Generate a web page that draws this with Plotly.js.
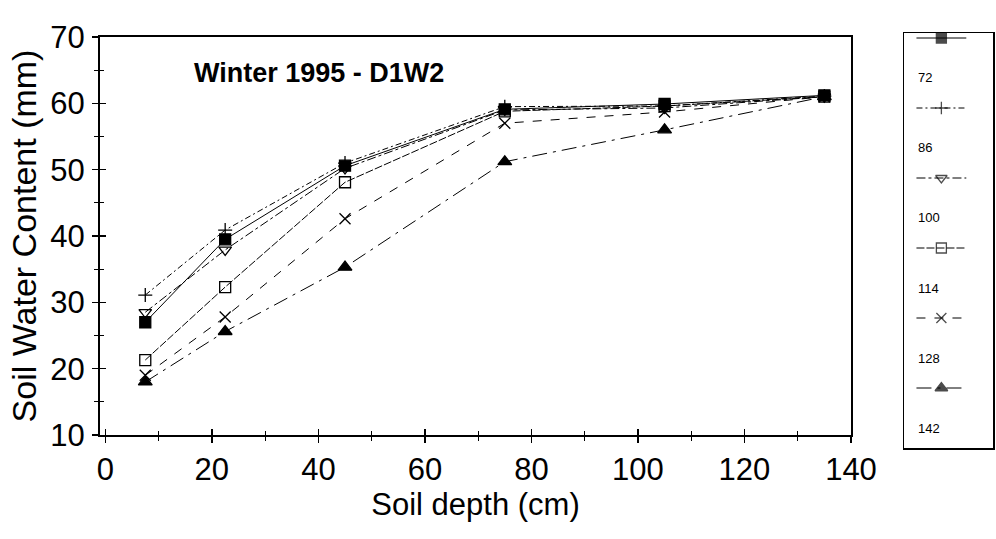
<!DOCTYPE html>
<html>
<head>
<meta charset="utf-8">
<script src="https://cdn.plot.ly/plotly-3.0.1.min.js"></script>
<style>html,body{margin:0;padding:0;background:#fff;}#chart{width:996px;height:539px;}</style>
</head>
<body>
<div id="chart"></div>
<script>
// ---- data ----
const depths = [7.5, 22.5, 45, 75, 105, 135];
const seriesNames = ["72", "86", "100", "114", "128", "142"];
const s72  = [27.0, 39.5, 50.6, 59.1, 59.9, 61.2];
const s86  = [31.1, 40.9, 51.0, 59.5, 59.6, 61.1];
const s100 = [28.5, 37.9, 50.2, 59.0, 59.3, 61.0];
const s114 = [21.3, 32.3, 48.1, 58.8, 59.6, 61.0];
const s128 = [19.0, 27.8, 42.6, 57.0, 58.7, 61.0];
const s142 = [18.0, 25.6, 35.3, 51.2, 56.0, 61.0];
const seriesValues = [s72, s86, s100, s114, s128, s142];
const chartTitle = "Winter 1995 - D1W2";
const xTitle = "Soil depth (cm)";
const yTitle = "Soil Water Content (mm)";

// ---- styles ----
const styles = [
  {symbol: "square", size: 11, dash: "solid"},
  {symbol: "cross-thin-open", size: 10, dash: "6px,3px,2px,3px"},
  {symbol: "triangle-down-open", size: 11, dash: "dashdot"},
  {symbol: "square-open", size: 11, dash: "8px,2px"},
  {symbol: "x-thin-open", size: 11, dash: "dash"},
  {symbol: "triangle-up", size: 12, dash: "longdashdot"}
];

const W = 996, H = 539;
const px = v => v / W;
const py = v => 1 - v / H;

const tickFont = {family: "Liberation Sans, Arial", size: 31, color: "#000"};

const traces = [];
seriesValues.forEach((vals, i) => {
  traces.push({
    x: depths, y: vals, name: seriesNames[i], type: "scatter", mode: "lines+markers",
    xaxis: "x", yaxis: "y", showlegend: false, cliponaxis: false,
    line: {color: "#000", width: 1, dash: styles[i].dash},
    marker: {symbol: styles[i].symbol, size: styles[i].size, color: "#000",
             line: {color: "#000", width: 1.3}}
  });
});

// legend drawn in its own axes
const legSpacing = 70;
const legAnn = [];
seriesNames.forEach((nm, i) => {
  const yy = 5 + legSpacing * i;
  traces.push({
    x: [0.14, 0.42, 0.7], y: [yy, yy, yy], type: "scatter", mode: "lines+markers",
    xaxis: "x2", yaxis: "y2", showlegend: false, cliponaxis: false, hoverinfo: "skip",
    line: {color: "#000", width: 1, dash: styles[i].dash},
    marker: {symbol: styles[i].symbol, size: [0, styles[i].size - 1, 0], color: "#000",
             line: {color: "#000", width: 1.3}}
  });
  legAnn.push({
    x: 0.14, y: yy + 40, xref: "x2", yref: "y2", text: nm, showarrow: false,
    xanchor: "left", yanchor: "middle",
    font: {family: "Liberation Sans, Arial", size: 13, color: "#000"}
  });
});
// overlay axes for inward tick halves
traces.push({x: [0], y: [10], xaxis: "x3", yaxis: "y3", mode: "markers",
  marker: {size: 0, opacity: 0}, showlegend: false, hoverinfo: "skip"});

const xDom = [px(100), px(851)];
const yDom = [py(435), py(37)];

const layout = {
  width: W, height: H,
  margin: {l: 0, r: 0, t: 0, b: 0},
  paper_bgcolor: "#fff", plot_bgcolor: "rgba(0,0,0,0)",
  showlegend: false,
  xaxis: {
    domain: xDom, range: [-1, 140], anchor: "y",
    tickvals: [0, 20, 40, 60, 80, 100, 120, 140],
    ticks: "outside", ticklen: 6, tickwidth: 1.5, tickcolor: "#000",
    minor: {tickvals: [10, 30, 50, 70, 90, 110, 130], ticks: "outside", ticklen: 4, tickwidth: 1.2, tickcolor: "#000"},
    showline: true, linecolor: "#000", linewidth: 2, mirror: true,
    showgrid: false, zeroline: false,
    tickfont: tickFont, ticklabelstandoff: 0,
    title: {text: xTitle, font: {family: "Liberation Sans, Arial", size: 31, color: "#000"}, standoff: 0}
  },
  yaxis: {
    domain: yDom, range: [10, 70], anchor: "x",
    dtick: 10, tick0: 10,
    ticks: "outside", ticklen: 6, tickwidth: 1.5, tickcolor: "#000",
    minor: {dtick: 5, tick0: 15, ticks: "outside", ticklen: 4, tickwidth: 1.2, tickcolor: "#000"},
    showline: true, linecolor: "#000", linewidth: 2, mirror: true,
    showgrid: false, zeroline: false,
    tickfont: tickFont, ticklabelstandoff: 1,
    title: {text: yTitle, font: {family: "Liberation Sans, Arial", size: 34, color: "#000"}, standoff: 3}
  },
  xaxis3: {
    domain: xDom, range: [-1, 140], anchor: "y3", overlaying: "x",
    tickvals: [0, 20, 40, 60, 80, 100, 120, 140], showticklabels: false,
    ticks: "inside", ticklen: 6, tickwidth: 1.5, tickcolor: "#000",
    minor: {tickvals: [10, 30, 50, 70, 90, 110, 130], ticks: "inside", ticklen: 4, tickwidth: 1.2, tickcolor: "#000"},
    showline: false, showgrid: false, zeroline: false
  },
  yaxis3: {
    domain: yDom, range: [10, 70], anchor: "x3", overlaying: "y",
    dtick: 10, tick0: 10, showticklabels: false,
    ticks: "inside", ticklen: 6, tickwidth: 1.5, tickcolor: "#000",
    minor: {dtick: 5, tick0: 15, ticks: "inside", ticklen: 4, tickwidth: 1.2, tickcolor: "#000"},
    showline: false, showgrid: false, zeroline: false
  },
  xaxis2: {
    domain: [px(904), px(993)], range: [0, 1], anchor: "y2",
    showline: true, linecolor: "#000", linewidth: 1.5, mirror: true,
    showticklabels: false, ticks: "", showgrid: false, zeroline: false, fixedrange: true
  },
  yaxis2: {
    domain: [py(448), py(33)], range: [415, 0], anchor: "x2",
    showline: true, linecolor: "#000", linewidth: 1.5, mirror: true,
    showticklabels: false, ticks: "", showgrid: false, zeroline: false, fixedrange: true
  },
  annotations: [
    {x: px(192), y: 64.6, xref: "paper", yref: "y", text: "<b>" + chartTitle + "</b>",
     showarrow: false, xanchor: "left", yanchor: "middle",
     font: {family: "Liberation Sans, Arial", size: 27, color: "#000"}}
  ].concat(legAnn)
};

Plotly.newPlot("chart", traces, layout, {displayModeBar: false, staticPlot: true});
</script>
</body>
</html>
